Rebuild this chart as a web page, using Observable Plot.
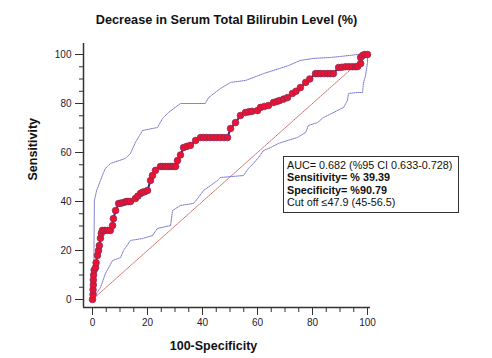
<!DOCTYPE html>
<html><head><meta charset="utf-8">
<script src="https://cdn.jsdelivr.net/npm/d3@7"></script>
<script src="https://cdn.jsdelivr.net/npm/@observablehq/plot@0.6"></script>
<style>
body{margin:0;background:#fff;}
#wrap{position:relative;width:492px;height:358px;font-family:"Liberation Sans",Arial,sans-serif;overflow:hidden}
#title{position:absolute;left:0;width:453px;top:12px;text-align:center;font-weight:bold;font-size:12.7px;line-height:16px;color:#111}
#chart{position:absolute;left:0;top:36px}
#box{position:absolute;left:283px;top:156px;width:171px;height:53px;border:1px solid #333;padding:2px 0 0 3px;font-size:10.8px;line-height:12.3px;color:#111;background:#fff;white-space:nowrap}
</style></head><body>
<div id="wrap">
  <div id="title">Decrease in Serum Total Bilirubin Level (%)</div>
  <div id="chart"></div>
  <div id="box"></div>
</div>
<script>
// ROC curve points (100-Specificity, Sensitivity)
const rocX = [0,0.2,0.2,0.3,0.3,0.4,0.6,1.1,1.3,1.8,2.2,2.5,2.9,3.2,3.6,4.5,5.5,6.5,7.3,7.6,8.4,9.5,10.2,11,11.8,12.5,13,13.8,15.6,16.5,17.5,18.2,19,20,21.1,21.8,22.9,24.7,25.6,26.5,27.5,28.5,29.3,30.2,30.9,32,33.1,34.3,35.6,37.5,39.3,40.4,41.5,42.7,44,45.2,46.5,47.8,49.1,50.2,52,53.8,55.6,56.8,58,60,61.1,62.5,64,65.8,67,68,69.5,70.9,72.7,74,75.6,77.5,79,81.1,82,83,84.2,85.5,86.5,87.6,89.5,90.7,92,93.2,94.5,95.7,96.4,97.5,97.5,98.2,99,100];
const rocY = [0,2,4,6,8,10,12,13,15,18,20,22,25,27,28.2,28.2,28.2,28.2,30.2,33,36.3,39.2,39.3,39.5,39.8,40,40,40,41.2,42.2,43.3,43.8,44,44.5,48.6,50.6,52.7,54.3,54.3,54.3,54.3,54.3,54.3,54.3,56.7,59,62,62.5,62.9,64.9,66.1,66.1,66.1,66.1,66.1,66.1,66.1,66.1,66.1,69.8,72.2,75.1,76.3,76.6,76.8,77.1,78.4,78.8,79.2,80.4,80.8,81.2,81.8,82.4,84.1,85,86.5,88.6,90,92.2,92.2,92.2,92.2,92.2,92.2,92.2,94.7,94.8,95,95,95,95,95.1,96.3,98.8,99.6,100,100];
// upper 95% confidence bound
const upX = [0,0.4,0.7,1.5,2.9,4,4.7,6.5,12,13.8,15.6,18.2,23.6,25.5,27.6,32,41,42.2,46.5,50.2,55.6,58.5,62.2,65.8,71.3,75.6,80.4,86.5,90.2,96.4,100];
const upY = [0,2.4,40.4,44.5,48.6,51.8,53.5,55.5,57.6,59.6,64.1,69,70.2,73.9,76.3,80,80,82.4,86.1,88.6,89.4,90.6,92.2,93.5,95.5,97.6,98.4,98.8,99.2,100,100];
// lower 95% confidence bound
const loX = [0,0.4,2.9,4.7,7.3,10.2,11.3,13.8,18.2,21.8,23.6,28.4,29.1,32,36.7,38.2,40.4,42.9,45.5,46.5,54.9,56.7,58.5,60.4,62.2,64.7,67.6,70.9,74.5,77.5,78.5,81.8,84,87.6,91.3,92.7,93.1,96.4,98.2,98.5,99.3,100,100];
const loY = [0,0.8,4.9,10.6,15.9,17.1,20,24.1,24.9,26.1,29,30.2,36.3,38.4,39.2,41.2,44.5,46.5,48.6,49.8,50.6,53.5,55.5,58,60.8,62,63.7,64.9,66.1,68.2,71,72.2,74.3,76.3,78.4,81.2,84.1,84.5,84.5,88.2,91.4,96.7,100];
const diagX = [0,100];
const diagY = [0,100];
const xTicks = [0,20,40,60,80,100];
const yTicks = [0,20,40,60,80,100];
const minorTicks = [5,10,15,25,30,35,45,50,55,65,70,75,85,90,95];
const statLines = [
  {text:"AUC= 0.682 (%95 CI 0.633-0.728)", bold:false},
  {text:"Sensitivity= % 39.39", bold:true},
  {text:"Specificity= %90.79", bold:true},
  {text:"Cut off \u226447.9 (45-56.5)", bold:false}
];
const xLabel = "100-Specificity";
const yLabel = "Sensitivity";
const axisStart = -3.27;

const toPts = (xs, ys) => xs.map((x,i)=>({x, y: ys[i]}));
const roc = toPts(rocX, rocY), up = toPts(upX, upY), lo = toPts(loX, loY), diag = toPts(diagX, diagY);

const fmt = () => "";
const plot = Plot.plot({
  width: 492, height: 322,
  marginLeft: 83, marginRight: 122, marginTop: 7, marginBottom: 51,
  x: {domain:[0,100], range:[92,367]},
  y: {domain:[0,100], range:[263,18]},
  style: {fontFamily:'"Liberation Sans", Arial, sans-serif', fontSize:"10px", color:"#1c1c30", background:"#fff"},
  marks: [
    Plot.axisX({ticks: xTicks, tickSize: 8, tickPadding: 3, label: null, stroke:"#333"}),
    Plot.axisX({ticks: minorTicks, tickSize: 5, tickFormat: fmt, label: null, stroke:"#333"}),
    Plot.axisY({ticks: yTicks, tickSize: 8, tickPadding: 4, label: null, stroke:"#333"}),
    Plot.axisY({ticks: minorTicks, tickSize: 4, tickFormat: fmt, label: null, stroke:"#333"}),
    Plot.ruleX([axisStart], {stroke:"#333", strokeWidth:1.5}),
    Plot.ruleY([axisStart], {stroke:"#333", strokeWidth:1.5}),
    Plot.line(diag, {x:"x", y:"y", stroke:"#c86464", strokeWidth:0.9, strokeDasharray:"2,1"}),
    Plot.line(up, {x:"x", y:"y", stroke:"#7878cf", strokeWidth:1, strokeDasharray:"1,1"}),
    Plot.line(lo, {x:"x", y:"y", stroke:"#7878cf", strokeWidth:1, strokeDasharray:"1,1"}),
    Plot.line(roc, {x:"x", y:"y", stroke:"#2a2a9a", strokeWidth:2}),
    Plot.dot(roc, {x:"x", y:"y", r:3.3, fill:"#ee1230", stroke:"#8c2a55", strokeWidth:0.8}),
    Plot.text([xLabel], {text:d=>d, frameAnchor:"bottom", dx:-13.5, dy:42, fontWeight:"bold", fontSize:12.5, fill:"#111"}),
    Plot.text([yLabel], {text:d=>d, frameAnchor:"left", dx:-51, dy:5, rotate:-90, fontWeight:"bold", fontSize:12.5, fill:"#111"})
  ]
});
document.getElementById("chart").appendChild(plot);
const box = document.getElementById("box");
statLines.forEach(l => {
  const d = document.createElement("div");
  d.textContent = l.text;
  if (l.bold) d.style.fontWeight = "bold";
  box.appendChild(d);
});
</script>
</body></html>
